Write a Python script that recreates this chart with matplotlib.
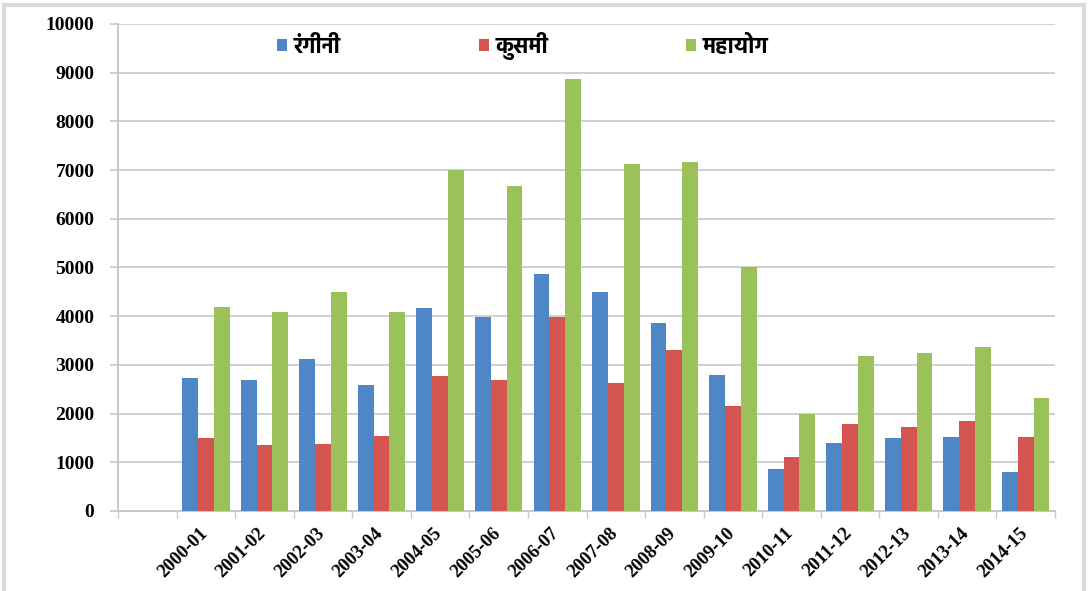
import matplotlib
matplotlib.use("Agg")
import matplotlib.pyplot as plt
import numpy as np
from matplotlib.patches import Rectangle
from matplotlib.transforms import ScaledTranslation

# -------------------------
# Data
# -------------------------
years = ["2000-01", "2001-02", "2002-03", "2003-04", "2004-05", "2005-06",
         "2006-07", "2007-08", "2008-09", "2009-10", "2010-11", "2011-12",
         "2012-13", "2013-14", "2014-15"]
rangini = [2725, 2695, 3115, 2580, 4175, 3990, 4865, 4505, 3855, 2795,
           860, 1405, 1495, 1515, 800]
kusmi = [1495, 1355, 1375, 1540, 2770, 2690, 3990, 2620, 3305, 2165,
         1115, 1785, 1730, 1850, 1515]
mahayog = [4195, 4090, 4490, 4090, 7000, 6680, 8880, 7130, 7175, 5000,
           1985, 3185, 3250, 3375, 2325]
series_names = ["रंगीनी", "कुसमी", "महायोग"]
y_ticks = [0, 1000, 2000, 3000, 4000, 5000, 6000, 7000, 8000, 9000, 10000]

colors = ["#4F86C6", "#D4554F", "#9BC25A"]
# static bold faces first, variable fonts only render their regular weight
deva = ["Hind", "Mukta", "Poppins", "Noto Sans Devanagari", "DejaVu Sans"]
serif = "Liberation Serif"

# -------------------------
# Plot
# -------------------------
fig = plt.figure(figsize=(10.91, 5.91), dpi=100)
ax = fig.add_axes([0.1082, 0.1354, 0.8588, 0.8240])

# first slot on the category axis is left empty
x = np.arange(len(years)) + 1
w = 0.27
for i, (vals, name, c) in enumerate(zip([rangini, kusmi, mahayog], series_names, colors)):
    ax.bar(x + (i - 1) * w, vals, width=w, color=c, label=name, zorder=3)

ax.set_xlim(-0.5, len(years) + 0.5)
ax.set_ylim(0, 10000)

ax.set_yticks(y_ticks)
ax.set_yticklabels([str(v) for v in y_ticks], fontsize=14, fontweight="bold",
                   family=serif)
ax.yaxis.grid(True, color="#d0d0d0", linewidth=1.4, zorder=0)
ax.tick_params(axis="y", length=6, width=1.2, color="#c8c8c8", pad=11)

ax.set_xticks(x)
ax.set_xticklabels(years, rotation=45, ha="right", va="top",
                   rotation_mode="anchor", fontsize=13.5, fontweight="bold",
                   family=serif)
ax.tick_params(axis="x", length=0, pad=10)
# nudge rotated labels so their upper end sits on the category centre
shift = ScaledTranslation(-7 / 100, 0, fig.dpi_scale_trans)
for lbl in ax.get_xticklabels():
    lbl.set_transform(lbl.get_transform() + shift)
ax.set_xticks(np.arange(len(years) + 2) - 0.5, minor=True)
ax.tick_params(axis="x", which="minor", length=5, width=1.0, color="#c8c8c8")

for side in ["top", "right"]:
    ax.spines[side].set_visible(False)
for side in ["left", "bottom"]:
    ax.spines[side].set_color("#c8c8c8")
    ax.spines[side].set_linewidth(1.4)

ax.legend(loc="center", bbox_to_anchor=(0.432, 0.955), ncol=3, frameon=False,
          prop={"family": deva, "weight": "bold", "size": 16},
          handlelength=0.45, handleheight=0.45, handletextpad=0.3,
          columnspacing=6.2, borderaxespad=0)

# light frame round the chart area
fig.patches.append(Rectangle((0.004, -0.02), 0.99, 1.012, transform=fig.transFigure,
                             fill=False, edgecolor="#dadada", linewidth=3))

fig.savefig("out.png", dpi=100)
